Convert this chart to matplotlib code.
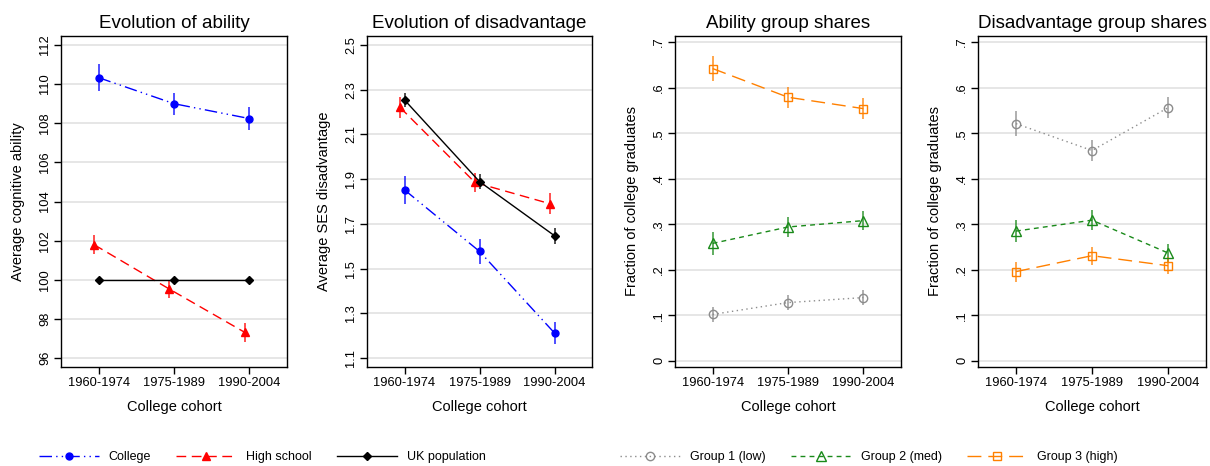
import numpy as np
import matplotlib
matplotlib.use("Agg")
import matplotlib.pyplot as plt

plt.rcParams['font.family'] = ['Liberation Sans', 'DejaVu Sans']

# data
cohorts = ['1960-1974', '1975-1989', '1990-2004']

abil_college = [110.33, 109.0, 108.24]
abil_college_se = [0.68, 0.57, 0.60]
abil_hs = [101.79, 99.52, 97.31]
abil_hs_se = [0.48, 0.45, 0.49]
abil_uk = [100.0, 100.0, 100.0]

dis_college = [1.852, 1.577, 1.212]
dis_college_se = [0.062, 0.055, 0.048]
dis_hs = [2.221, 1.885, 1.790]
dis_hs_se = [0.046, 0.043, 0.047]
dis_uk = [2.254, 1.889, 1.647]
dis_uk_se = [0.030, 0.032, 0.035]

ab_g1 = [0.102, 0.128, 0.139]
ab_g1_se = [0.017, 0.016, 0.016]
ab_g2 = [0.258, 0.294, 0.308]
ab_g2_se = [0.025, 0.021, 0.021]
ab_g3 = [0.642, 0.579, 0.554]
ab_g3_se = [0.027, 0.023, 0.023]

dg_g1 = [0.521, 0.462, 0.556]
dg_g1_se = [0.028, 0.024, 0.023]
dg_g2 = [0.285, 0.309, 0.237]
dg_g2_se = [0.025, 0.022, 0.020]
dg_g3 = [0.196, 0.231, 0.209]
dg_g3_se = [0.022, 0.020, 0.019]

abil_ticks = [96, 98, 100, 102, 104, 106, 108, 110, 112]
dis_ticks = [1.1, 1.3, 1.5, 1.7, 1.9, 2.1, 2.3, 2.5]
share_ticks = [0, 0.1, 0.2, 0.3, 0.4, 0.5, 0.6, 0.7]
share_labels = ['0', '.1', '.2', '.3', '.4', '.5', '.6', '.7']

x = np.arange(len(cohorts))
hs_shift = -0.06

W, H = 1210, 466
fig = plt.figure(figsize=(W / 100, H / 100), dpi=100)

def make_ax(l, r):
    top, bot = 36, 367
    return fig.add_axes([l / W, 1 - bot / H, (r - l) / W, (bot - top) / H])

# styles
st_college = dict(color='#0000ff', ls=(0, (9, 3, 1, 3, 1, 3)), marker='o', ms=5, mfc='#0000ff', mec='#0000ff')
st_hs = dict(color='#ff0000', ls=(0, (7, 4)), marker='^', ms=6, mfc='#ff0000', mec='#ff0000')
st_uk = dict(color='black', ls='-', marker='D', ms=4.5, mfc='black', mec='black')
st_g1 = dict(color='#8c8c8c', ls=(0, (1, 2.5)), marker='o', ms=6, mfc='none', mec='#8c8c8c')
st_g2 = dict(color='#1a8a1a', ls=(0, (3.5, 3)), marker='^', ms=6.5, mfc='none', mec='#1a8a1a')
st_g3 = dict(color='#ff8000', ls=(0, (10, 5)), marker='s', ms=6, mfc='none', mec='#ff8000')


def series(ax, xs, ys, se, st, label):
    if se is not None:
        ax.errorbar(xs, ys, yerr=se, fmt='none', ecolor=st['color'], elinewidth=1.3,
                    capsize=0, alpha=0.75, zorder=2)
    line, = ax.plot(xs, ys, lw=1, label=label, zorder=3, **st)
    return line


def style_ax(ax, title, ylabel, ticks, labels, ylim):
    ax.set_xlim(-0.5, 2.5)
    ax.set_ylim(*ylim)
    ax.set_xticks(x)
    ax.set_xticklabels(cohorts)
    ax.set_yticks(ticks)
    ax.set_yticklabels(labels)
    plt.setp(ax.get_yticklabels(), rotation=90, va='center')
    ax.tick_params(axis='both', direction='out', length=5, width=1, labelsize=9.3, pad=2)
    ax.grid(axis='y', color='#e2e2e2', lw=1.2)
    ax.set_axisbelow(True)
    for s in ax.spines.values():
        s.set_linewidth(1)
    ax.set_title(title, fontsize=13.5, pad=6)
    ax.set_xlabel('College cohort', fontsize=10.5, labelpad=8)
    ax.set_ylabel(ylabel, fontsize=10.5)
    ax.yaxis.set_label_coords(-36 / 226, 0.5)


# panel 1
ax1 = make_ax(61, 287)
h1 = series(ax1, x, abil_college, abil_college_se, st_college, 'College')
h2 = series(ax1, x + hs_shift, abil_hs, abil_hs_se, st_hs, 'High school')
h3 = series(ax1, x, abil_uk, None, st_uk, 'UK population')
style_ax(ax1, 'Evolution of ability', 'Average cognitive ability',
         abil_ticks, [str(t) for t in abil_ticks], (95.54, 112.46))

# panel 2
ax2 = make_ax(367, 592)
series(ax2, x, dis_college, dis_college_se, st_college, 'College')
series(ax2, x + hs_shift, dis_hs, dis_hs_se, st_hs, 'High school')
series(ax2, x, dis_uk, dis_uk_se, st_uk, 'UK population')
style_ax(ax2, 'Evolution of disadvantage', 'Average SES disadvantage',
         dis_ticks, ['%.1f' % t for t in dis_ticks], (1.06, 2.54))

# panel 3
ax3 = make_ax(675, 901)
g1 = series(ax3, x, ab_g1, ab_g1_se, st_g1, 'Group 1 (low)')
g2 = series(ax3, x, ab_g2, ab_g2_se, st_g2, 'Group 2 (med)')
g3 = series(ax3, x, ab_g3, ab_g3_se, st_g3, 'Group 3 (high)')
style_ax(ax3, 'Ability group shares', 'Fraction of college graduates',
         share_ticks, share_labels, (-0.0135, 0.7135))

# panel 4
ax4 = make_ax(978, 1206)
series(ax4, x, dg_g1, dg_g1_se, st_g1, 'Group 1 (low)')
series(ax4, x, dg_g2, dg_g2_se, st_g2, 'Group 2 (med)')
series(ax4, x, dg_g3, dg_g3_se, st_g3, 'Group 3 (high)')
style_ax(ax4, 'Disadvantage group shares', 'Fraction of college graduates',
         share_ticks, share_labels, (-0.0135, 0.7135))

# legends
leg_kw = dict(ncol=3, frameon=False, fontsize=9, handlelength=4.8, handletextpad=0.8,
              columnspacing=2.0, numpoints=1)
fig.legend(handles=[h1, h2, h3], loc='center', bbox_to_anchor=(262 / W, 1 - 457 / H), **leg_kw)
fig.legend(handles=[g1, g2, g3], loc='center', bbox_to_anchor=(869 / W, 1 - 457 / H), **leg_kw)

fig.savefig('out.png', dpi=100)
